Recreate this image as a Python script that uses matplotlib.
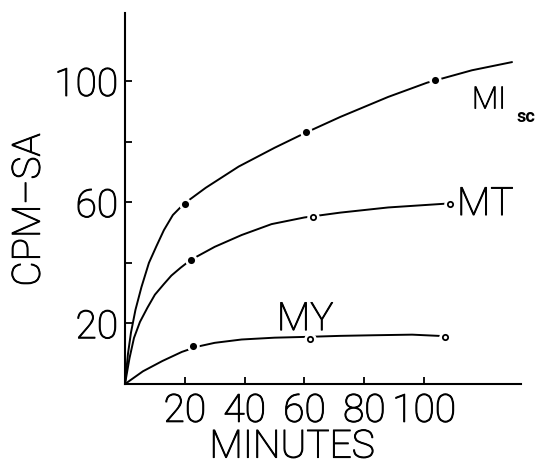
import matplotlib
matplotlib.use('Agg')
import matplotlib.pyplot as plt
import matplotlib.patheffects as pe

plt.rcParams['font.family'] = ['Roboto', 'DejaVu Sans']
plt.rcParams['font.weight'] = 'light'

# curvas
mi_x = [0, 1, 2, 3.5, 5.5, 8, 10.5, 13, 16, 19.7, 27, 38, 50, 60, 72, 88, 101, 116, 129.4]
mi_y = [0, 10, 17, 24.5, 32, 40, 45.5, 50.8, 55.8, 59.5, 64.8, 71.8, 78, 82.8, 88.2, 94.8, 99.5, 103.6, 106.3]

mt_x = [0, 1.5, 3, 5, 7.5, 10, 13, 15.5, 18.6, 22, 30, 39, 49, 60, 72, 88, 108]
mt_y = [0, 8.5, 15.2, 20.5, 25.2, 29.5, 33, 35.8, 38.4, 41, 45.3, 49.2, 52.8, 55, 56.6, 58.3, 59.6]

my_x = [0, 6, 12.5, 19, 24, 30, 39, 50, 62, 72, 83, 96, 107]
my_y = [0, 4.2, 7.6, 10.6, 12.3, 13.6, 14.7, 15.3, 15.6, 15.9, 16.1, 16.3, 15.8]

# pontos medidos
mi_pts_x = [20, 60.4, 103.7]
mi_pts_y = [59.5, 83.3, 100.5]
mi_fill = [True, True, True]

mt_pts_x = [22.2, 62.9, 108.7]
mt_pts_y = [41, 55.3, 59.6]
mt_fill = [True, False, False]

my_pts_x = [22.7, 61.9, 106.9]
my_pts_y = [12.7, 14.7, 15.5]
my_fill = [True, False, False]

x_ticks = [20, 40, 60, 80, 100]
y_ticks = [20, 40, 60, 80, 100]
y_tick_labels = ['20', '', '60', '', '100']

# deixa o traco da fonte fina um pouco mais preto
traco = [pe.withStroke(linewidth=0.7, foreground='black')]

fig = plt.figure(figsize=(5.36, 4.67), dpi=100)
ax = fig.add_axes([0.2332, 0.1777, 0.7388, 0.7944])

for cx, cy in [(mi_x, mi_y), (mt_x, mt_y), (my_x, my_y)]:
    ax.plot(cx, cy, color='black', lw=1.4, solid_capstyle='round',
            solid_joinstyle='round', zorder=2)

for px, py, fl in [(mi_pts_x, mi_pts_y, mi_fill),
                   (mt_pts_x, mt_pts_y, mt_fill),
                   (my_pts_x, my_pts_y, my_fill)]:
    # pequeno espaco branco em volta do ponto
    ax.plot(px, py, 'o', ms=8, color='white', zorder=3)
    for x, y, f in zip(px, py, fl):
        ax.plot(x, y, 'o', ms=3.8, mec='black', mew=1.3,
                mfc='black' if f else 'white', zorder=4)

ax.set_xlim(0, 132.4)
ax.set_ylim(0, 122.5)
ax.set_xticks(x_ticks)
ax.set_yticks(y_ticks)
ax.set_yticklabels(y_tick_labels)
ax.tick_params(direction='in', length=5, width=1.3, labelsize=28)
ax.tick_params(axis='x', pad=6)
ax.tick_params(axis='y', pad=5)
for lab in ax.get_xticklabels() + ax.get_yticklabels():
    lab.set_path_effects(traco)

for s in ['top', 'right']:
    ax.spines[s].set_visible(False)
for s in ['left', 'bottom']:
    ax.spines[s].set_linewidth(1.5)

# rotulos das curvas
ax.text(116, 91, 'MI', fontsize=22, ha='left', va='baseline', clip_on=False, path_effects=traco)
ax.text(130.8, 86.6, 'sc', fontsize=13, fontweight='bold', ha='left', va='baseline', clip_on=False)
ax.text(111, 55.8, 'MT', fontsize=28, ha='left', va='baseline', path_effects=traco)
ax.text(60.2, 17.8, 'MY', fontsize=28, ha='center', va='baseline', path_effects=traco)

fig.text(29 / 536, 1 - 210 / 467, 'CPM–SA', fontsize=28, rotation=90, ha='center', va='center',
         path_effects=traco)
fig.text(292 / 536, 0.003, 'MINUTES', fontsize=28, ha='center', va='bottom',
         path_effects=traco)

fig.savefig('out.png', dpi=100, facecolor='white')
